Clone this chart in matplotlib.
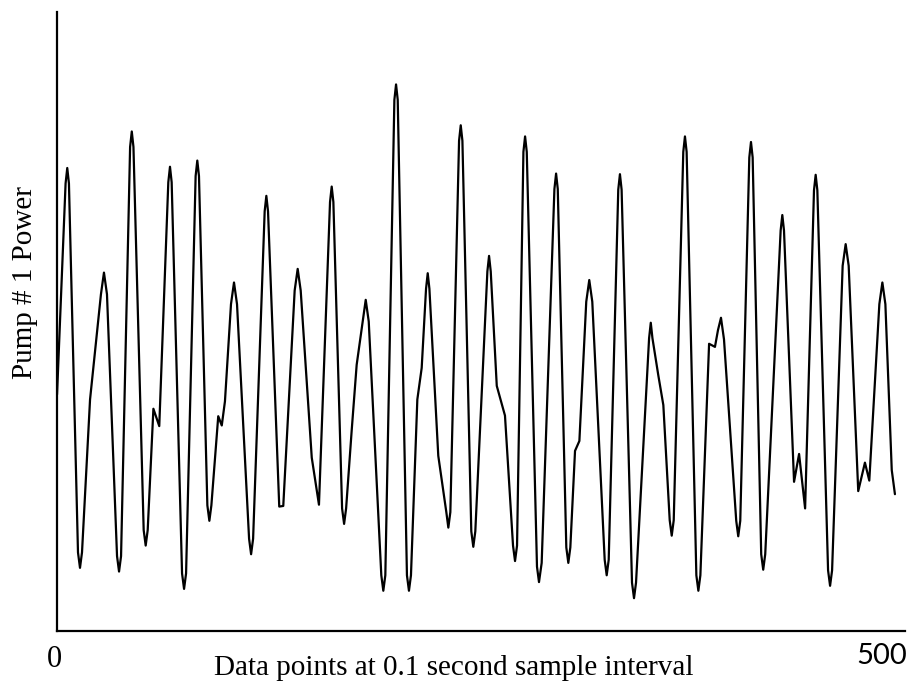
import matplotlib
matplotlib.use("Agg")
import matplotlib.pyplot as plt

# sample index (0.1 s per point) and pump #1 power (arbitrary units)
sample = [0, 5.1, 6.1, 7.1, 12.5, 13.7, 14.9, 19.7, 26.2, 28.0,
          29.8, 35.8, 37.0, 38.2, 43.6, 44.6, 45.6, 51.7, 52.9, 54.1,
          57.5, 61.0, 66.4, 67.4, 68.4, 74.6, 75.8, 77.0, 82.7, 83.7,
          84.7, 89.7, 90.9, 92.1, 96.2, 98.3, 100.2, 103.8, 105.6, 107.4,
          114.6, 115.8, 117.0, 123.9, 124.9, 125.9, 132.6, 135.0, 141.8, 143.6,
          145.4, 152.0, 153.9, 156.3, 162.9, 163.9, 164.9, 170.1, 171.3, 172.5,
          175.8, 178.8, 182.4, 184.2, 186.0, 193.5, 194.7, 195.9, 201.3, 202.3,
          203.3, 208.8, 210.0, 211.2, 215.0, 217.6, 220.2, 221.2, 222.2, 227.5,
          232.3, 233.5, 234.7, 239.9, 240.9, 241.9, 247.2, 248.4, 249.6, 256.8,
          257.8, 258.8, 262.4, 267.3, 272.1, 273.3, 274.5, 278.3, 279.3, 280.3,
          286.4, 287.6, 289.2, 296.8, 297.8, 298.8, 303.9, 305.1, 306.3, 309.1,
          311.7, 315.8, 317.6, 319.4, 326.8, 328.0, 329.2, 334.9, 335.9, 336.9,
          343.1, 344.3, 345.5, 353.3, 354.3, 355.3, 358.8, 361.8, 365.6, 366.8,
          368.0, 373.7, 374.7, 375.7, 381.5, 382.7, 383.9, 389.1, 392.6, 394.4,
          396.2, 398.0, 405.3, 406.5, 407.7, 413.1, 414.1, 415.1, 420.2, 421.4,
          422.6, 431.8, 432.8, 433.8, 439.8, 442.8, 446.4, 451.7, 452.7, 453.7,
          460.1, 461.3, 462.5, 468.8, 470.6, 472.4, 478.1, 482.1, 484.7, 490.7,
          492.5, 494.3, 498.1, 500]
power = [38.2, 72.3, 74.8, 72.3, 12.7, 10.2, 12.7, 37.4, 54.4, 57.9,
         54.4, 12.1, 9.6, 12.1, 78.2, 80.7, 78.2, 16.3, 13.8, 16.3,
         35.9, 33.1, 72.5, 75.0, 72.5, 9.3, 6.8, 9.3, 73.5, 76.0,
         73.5, 20.3, 17.8, 20.3, 34.7, 33.2, 37.1, 52.8, 56.3, 52.8,
         14.9, 12.4, 14.9, 67.8, 70.3, 67.8, 20.1, 20.2, 55.0, 58.5,
         55.0, 28.0, 24.6, 20.4, 69.3, 71.8, 69.3, 19.8, 17.3, 19.8,
         32.3, 43.0, 50.0, 53.5, 50.0, 9.0, 6.5, 9.0, 85.8, 88.3,
         85.8, 9.0, 6.5, 9.0, 37.4, 42.5, 55.3, 57.8, 55.3, 28.3,
         19.2, 16.7, 19.2, 79.2, 81.7, 79.2, 16.1, 13.6, 16.1, 58.1,
         60.6, 58.1, 39.6, 34.8, 13.8, 11.3, 13.8, 77.4, 79.9, 77.4,
         10.4, 7.9, 11.0, 71.4, 73.9, 71.4, 13.5, 11.0, 13.5, 29.1,
         30.7, 53.2, 56.7, 53.2, 11.5, 9.0, 11.5, 71.3, 73.8, 71.3,
         7.8, 5.3, 7.8, 47.3, 49.8, 47.3, 41.3, 36.5, 17.9, 15.4,
         17.9, 77.4, 79.9, 77.4, 9.0, 6.5, 9.0, 46.4, 45.9, 48.6,
         50.6, 47.1, 17.8, 15.3, 17.8, 76.5, 79.0, 76.5, 12.4, 9.9,
         12.4, 64.7, 67.2, 64.7, 24.1, 28.6, 19.8, 71.2, 73.7, 71.2,
         9.8, 7.3, 9.8, 59.0, 62.5, 59.0, 22.6, 27.2, 24.3, 52.8,
         56.3, 52.8, 26.0, 22.1]

fig = plt.figure(figsize=(9.17, 6.86), dpi=100)
ax = fig.add_axes([0.0622, 0.0802, 0.9247, 0.9023])

ax.plot(sample, power, color="black", linewidth=1.6,
        solid_joinstyle="round", solid_capstyle="round")

ax.set_xlim(0, 506)
ax.set_ylim(0, 100)
ax.set_xticks([])
ax.set_yticks([])
for side in ["top", "right"]:
    ax.spines[side].set_visible(False)
for side in ["left", "bottom"]:
    ax.spines[side].set_linewidth(1.6)

# end labels under the axis
ax.text(-0.0035, -0.022, "0", transform=ax.transAxes, ha="center", va="top",
        fontsize=22, family="Liberation Serif")
ax.text(0.973, -0.019, "500", transform=ax.transAxes, ha="center", va="top",
        fontsize=21, family="Lato")

fig.text(0.495, 0.016, "Data points at 0.1 second sample interval",
         ha="center", va="baseline", fontsize=21, family="Liberation Serif")
fig.text(0.027, 1 - 283 / 686, "Pump # 1 Power", rotation=90,
         ha="center", va="center", fontsize=21, family="Liberation Serif")

plt.savefig("out.png", dpi=100)
